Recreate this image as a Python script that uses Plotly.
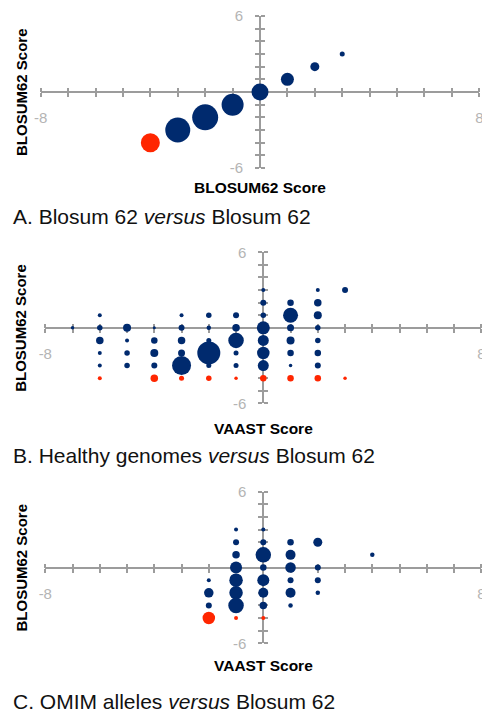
import plotly.graph_objects as go

W, H = 482, 715

# ---------------- data ----------------
# Panel A: Blosum 62 versus Blosum 62
a_x = [-4, -3, -2, -1, 0, 1, 2, 3]
a_y = [-4, -3, -2, -1, 0, 1, 2, 3]
a_size = [19, 25, 26, 22, 17, 13, 9, 5]

# Panel B: Healthy genomes versus Blosum 62
b_x = [-7,
       -6, -6, -6, -6, -6, -6,
       -5, -5, -5, -5,
       -4, -4, -4, -4, -4,
       -3, -3, -3, -3, -3, -3,
       -2, -2, -2, -2, -2, -2,
       -1, -1, -1, -1, -1, -1,
       0, 0, 0, 0, 0, 0, 0, 0,
       1, 1, 1, 1, 1, 1, 1,
       2, 2, 2, 2, 2, 2, 2, 2,
       3, 3]
b_y = [0,
       1, 0, -1, -2, -3, -4,
       0, -1, -2, -3,
       0, -1, -2, -3, -4,
       1, 0, -1, -2, -3, -4,
       1, 0, -1, -3, -2, -4,
       1, 0, -1, -2, -3, -4,
       3, 2, 1, 0, -1, -2, -3, -4,
       2, 1, 0, -1, -2, -3, -4,
       3, 2, 1, 0, -1, -2, -3, -4,
       3, -4]
b_size = [3.5,
          4, 5.5, 7.5, 4, 4, 4,
          8, 4, 5.5, 5.5,
          3, 6.5, 8, 6, 7.5,
          4, 6, 7.5, 7, 19, 5,
          5.5, 4.5, 5, 5, 23, 5.5,
          6, 7.5, 15.5, 5, 5, 3.5,
          4, 6, 5.5, 13, 11, 12.5, 11, 6.5,
          6.5, 15, 7, 8, 6.5, 3.5, 6.5,
          4, 7.5, 8, 5.5, 5.5, 6.5, 6, 6.5,
          6, 3.5]

# Panel C: OMIM alleles versus Blosum 62
c_x = [-2, -2, -2, -2,
       -1, -1, -1, -1, -1, -1, -1, -1,
       0, 0, 0, 0, 0, 0, 0, 0,
       1, 1, 1, 1, 1, 1,
       2, 2, 2, 2,
       4]
c_y = [-1, -2, -3, -4,
       3, 2, 1, 0, -1, -2, -3, -4,
       3, 2, 1, 0, -1, -2, -3, -4,
       2, 1, 0, -1, -2, -3,
       2, 0, -1, -2,
       1]
c_size = [4, 9.5, 6, 12.5,
          4, 6, 7.5, 12, 13.5, 13.5, 15.5, 4,
          4, 6, 15.5, 6.5, 12, 10, 7.5, 4,
          6.5, 10, 10.5, 6, 10, 4.5,
          9, 6, 6, 4.5,
          4.5]

x_ticks = list(range(-8, 9))
x_ticktext = ["-8"] + [""] * 15 + ["8"]
y_ticks = list(range(-6, 7))
y_ticktext = ["-6"] + [""] * 11 + ["6"]

captions = ["A. Blosum 62 <i>versus</i> Blosum 62",
            "B. Healthy genomes <i>versus</i> Blosum 62",
            "C. OMIM alleles <i>versus</i> Blosum 62"]
x_titles = ["BLOSUM62 Score", "VAAST Score", "VAAST Score"]
y_title = "BLOSUM62 Score"
RISK_ROW = -4  # BLOSUM62 score row drawn in red

NAVY = "#002a6e"
RED = "#ff2600"
AXIS = "#9c9c9c"
TICKLAB = "#b4b4b4"
FONT = "Liberation Sans, Arial, sans-serif"

# ---------------- layout geometry (pixels) ----------------
panels = [
    dict(xd=(40.7, 479.3), yd=(16, 168), xt_y=188, cap_y=216.5),
    dict(xd=(45.3, 481.3), yd=(252.3, 403.3), xt_y=428, cap_y=455.5),
    dict(xd=(45.3, 481.3), yd=(491.7, 643.3), xt_y=665.5, cap_y=701.5),
]
datasets = [(a_x, a_y, a_size), (b_x, b_y, b_size), (c_x, c_y, c_size)]


def fx(p):
    return p / W


def fy(p):
    return 1 - p / H


fig = go.Figure()
layout = dict(width=W, height=H,
              margin=dict(l=0, r=0, t=0, b=0, pad=0, autoexpand=False),
              paper_bgcolor="white", plot_bgcolor="white",
              showlegend=False, font=dict(family=FONT), annotations=[])

for i, (pn, (xs, ys, ss)) in enumerate(zip(panels, datasets)):
    k = i + 1          # main axes
    o = i + 4          # overlay axes (opposite tick direction)
    xdom = [fx(pn["xd"][0]), fx(pn["xd"][1])]
    ydom = [fy(pn["yd"][1]), fy(pn["yd"][0])]
    xmid = (xdom[0] + xdom[1]) / 2   # x = 0 (symmetric range)
    ymid = (ydom[0] + ydom[1]) / 2   # y = 0 (symmetric range)
    common_x = dict(domain=xdom, range=[-8, 8], anchor="free", position=ymid,
                    showgrid=False, zeroline=False, tickmode="array",
                    tickvals=x_ticks, ticklen=4, tickwidth=2, tickcolor=AXIS,
                    layer="below traces", fixedrange=True, automargin=False)
    common_y = dict(domain=ydom, range=[-6, 6], anchor="free", position=xmid,
                    showgrid=False, zeroline=False, tickmode="array",
                    tickvals=y_ticks, ticklen=4, tickwidth=2, tickcolor=AXIS,
                    layer="below traces", fixedrange=True, automargin=False)
    layout[f"xaxis{k}"] = dict(**common_x, side="bottom", ticks="outside",
                               showline=True, linecolor=AXIS, linewidth=2,
                               ticktext=x_ticktext, ticklabelstandoff=8,
                               ticklabeloverflow="allow",
                               tickfont=dict(size=15, color=TICKLAB, family=FONT))
    layout[f"yaxis{k}"] = dict(**common_y, side="left", ticks="outside",
                               showline=True, linecolor=AXIS, linewidth=2,
                               ticktext=y_ticktext, ticklabelstandoff=9,
                               ticklabeloverflow="allow",
                               tickfont=dict(size=15, color=TICKLAB, family=FONT))
    layout[f"xaxis{o}"] = dict(**common_x, side="top", ticks="outside",
                               overlaying=f"x{k}", showline=False,
                               showticklabels=False)
    layout[f"yaxis{o}"] = dict(**common_y, side="right", ticks="outside",
                               overlaying=f"y{k}", showline=False,
                               showticklabels=False)

    fig.add_trace(go.Scatter(x=[], y=[], xaxis=f"x{k}", yaxis=f"y{k}",
                             mode="markers", hoverinfo="skip"))
    colors = [RED if y == RISK_ROW else NAVY for y in ys]
    fig.add_trace(go.Scatter(x=xs, y=ys, xaxis=f"x{o}", yaxis=f"y{o}",
                             mode="markers", cliponaxis=False,
                             marker=dict(size=ss, color=colors, opacity=1,
                                         line=dict(width=0))))

    ann = layout["annotations"]
    ann.append(dict(text=f"<b>{y_title}</b>", x=fx(21), y=ymid, xref="paper",
                    yref="paper", textangle=-90, showarrow=False,
                    xanchor="center", yanchor="middle",
                    font=dict(size=15, color="black", family=FONT)))
    ann.append(dict(text=f"<b>{x_titles[i]}</b>", x=xmid, y=fy(pn["xt_y"]),
                    xref="paper", yref="paper", showarrow=False,
                    xanchor="center", yanchor="middle",
                    font=dict(size=15.5, color="black", family=FONT)))
    ann.append(dict(text=captions[i], x=fx(11), y=fy(pn["cap_y"]),
                    xref="paper", yref="paper", showarrow=False,
                    xanchor="left", yanchor="middle",
                    font=dict(size=21, color="#111111", family=FONT)))

fig.update_layout(**layout)
fig.write_html(
    "out.html",
    config=dict(displayModeBar=False, staticPlot=True),
    post_script="document.body.style.margin='0';document.body.style.padding='0';"
                "document.documentElement.style.overflow='hidden';")
